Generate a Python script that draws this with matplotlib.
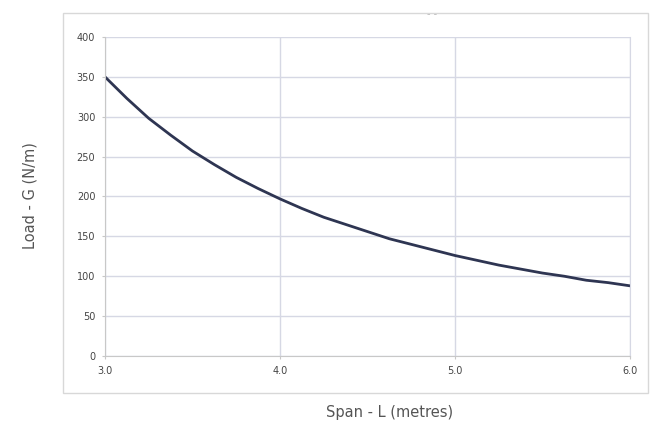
import matplotlib.pyplot as plt
from matplotlib.patches import Rectangle

# span (m) vs load (N/m)
span = [3.0, 3.125, 3.25, 3.375, 3.5, 3.625, 3.75, 3.875, 4.0, 4.125, 4.25, 4.375,
        4.5, 4.625, 4.75, 4.875, 5.0, 5.125, 5.25, 5.375, 5.5, 5.625, 5.75, 5.875, 6.0]
load = [350, 323, 298, 277, 257, 240, 224, 210, 197, 185, 174, 165,
        156, 147, 140, 133, 126, 120, 114, 109, 104, 100, 95, 92, 88]

x_ticks = [3.0, 4.0, 5.0, 6.0]
x_labels = ['3.0', '4.0', '5.0', '6.0']
y_ticks = [0, 50, 100, 150, 200, 250, 300, 350, 400]

fig = plt.figure(figsize=(6.51, 4.28), dpi=100)
fig.patches.append(Rectangle((63 / 651, 1 - 393 / 428), (648 - 63) / 651, (393 - 13) / 428,
                             transform=fig.transFigure, fill=False,
                             edgecolor='#d8d8d8', lw=1))

ax = fig.add_axes([105 / 651, 1 - 356 / 428, (630 - 105) / 651, (356 - 37) / 428])
ax.plot(span, load, color='#2e3552', lw=2, solid_capstyle='round')

ax.set_xlim(3.0, 6.0)
ax.set_ylim(0, 400)
ax.set_xticks(x_ticks)
ax.set_xticklabels(x_labels)
ax.set_yticks(y_ticks)
ax.grid(True, color='#d6d8e4', lw=1)
ax.set_axisbelow(True)
ax.spines['top'].set_visible(False)
ax.spines['right'].set_color('#d6d8e4')
for s in ['left', 'bottom']:
    ax.spines[s].set_color('#c8c8c8')
ax.tick_params(length=2, color='#c8c8c8', labelsize=7, labelcolor='#444444', pad=5)

fig.text(30 / 651, 1 - 196 / 428, 'Load - G (N/m)', rotation=90, ha='center', va='center',
         fontsize=10.5, color='#555555')
fig.text(390 / 651, 1 - 412 / 428, 'Span - L (metres)', ha='center', va='center',
         fontsize=10.5, color='#555555')
fig.text(432 / 651, 1 - 14 / 428, '- -', ha='center', va='center', fontsize=7, color='#bbbbbb')

fig.savefig('out.png', dpi=100)
